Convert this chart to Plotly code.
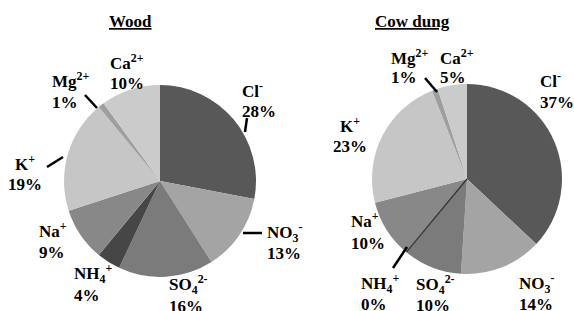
import math
import plotly.graph_objects as go

# ---- data ----
ions = ["Cl<sup>-</sup>", "NO<sub>3</sub><sup>-</sup>", "SO<sub>4</sub><sup>2-</sup>",
        "NH<sub>4</sub><sup>+</sup>", "Na<sup>+</sup>", "K<sup>+</sup>",
        "Mg<sup>2+</sup>", "Ca<sup>2+</sup>"]
wood = [28, 13, 16, 4, 9, 19, 1, 10]
cow_dung = [37, 14, 10, 0, 10, 23, 1, 5]
titles = ["Wood", "Cow dung"]
colors = ["#585858", "#a4a4a4", "#7b7b7b", "#464646",
          "#888888", "#c6c6c6", "#9e9e9e", "#cbcbcb"]

W, H = 574, 311
FONT = "Liberation Serif, Times New Roman, serif"

def px(x):
    return x / W

def py(y):
    return 1 - y / H

# pie geometry (pixels): center x, center y, radius
geo = [(160, 181, 96), (467, 179, 95)]

fig = go.Figure()
for vals, (cx, cy, r), name in zip([wood, cow_dung], geo, titles):
    fig.add_trace(go.Pie(
        values=vals, labels=ions, name=name,
        sort=False, direction="clockwise", rotation=0,
        marker=dict(colors=colors, line=dict(width=0)),
        textinfo="none", showlegend=False,
        domain=dict(x=[px(cx - r), px(cx + r)], y=[py(cy + r), py(cy - r)]),
    ))

# label positions (pixels): (x, y_name, y_value, xanchor)
wood_pos = [(240, 90, 111, "left"), (265, 232, 253, "left"), (167, 284, 306, "left"),
            (72, 273, 295, "left"), (37, 230, 252, "left"), (25, 163, 184, "center"),
            (50, 80, 102, "left"), (108, 62, 83, "left")]
cow_pos = [(538, 80, 102, "left"), (517, 283, 304, "left"), (414, 284, 305, "left"),
           (359, 283, 304, "left"), (349, 220, 243, "left"), (350, 125, 147, "center"),
           (389, 57, 78, "left"), (438, 57, 78, "left")]

annotations = []
for vals, pos in [(wood, wood_pos), (cow_dung, cow_pos)]:
    for name, v, (x, y1, y2, xa) in zip(ions, vals, pos):
        for txt, y in [(name, y1), (f"{v}%", y2)]:
            annotations.append(dict(
                x=px(x), y=py(y), xref="paper", yref="paper",
                text=f"<b>{txt}</b>", showarrow=False,
                xanchor=xa, yanchor="middle",
                font=dict(family=FONT, size=17, color="black")))

for t, x in zip(titles, [130, 412]):
    annotations.append(dict(
        x=px(x), y=py(22), xref="paper", yref="paper",
        text=f"<b><u>{t}</u></b>", showarrow=False,
        xanchor="center", yanchor="middle",
        font=dict(family=FONT, size=17, color="black")))

# leader lines (pixels)
leaders = [((85, 95), (97, 108)), ((247, 118), (245, 132)),
           ((47, 167), (63, 157)), ((243, 233), (262, 233)),
           ((425, 78), (437, 92)), ((393, 268), (407, 247))]
shapes = []
for (x0, y0), (x1, y1) in leaders:
    shapes.append(dict(type="line", xref="paper", yref="paper",
                       x0=px(x0), y0=py(y0), x1=px(x1), y1=py(y1),
                       line=dict(color="black", width=2.5)))

# zero-size NH4+ slice outline for cow dung (derived from data)
cx, cy, r = geo[1]
frac = sum(cow_dung[:3]) / sum(cow_dung)
ang = 2 * math.pi * frac
ex, ey = cx + r * math.sin(ang), cy - r * math.cos(ang)
shapes.append(dict(type="line", xref="paper", yref="paper",
                   x0=px(cx), y0=py(cy), x1=px(ex), y1=py(ey),
                   line=dict(color="#333333", width=1.2)))

fig.update_layout(
    width=W, height=H, margin=dict(l=0, r=0, t=0, b=0),
    paper_bgcolor="white", plot_bgcolor="white",
    annotations=annotations, shapes=shapes,
)
fig.write_html("out.html", config={"displayModeBar": False},
               post_script="document.body.style.margin='0';document.body.style.overflow='hidden';")
